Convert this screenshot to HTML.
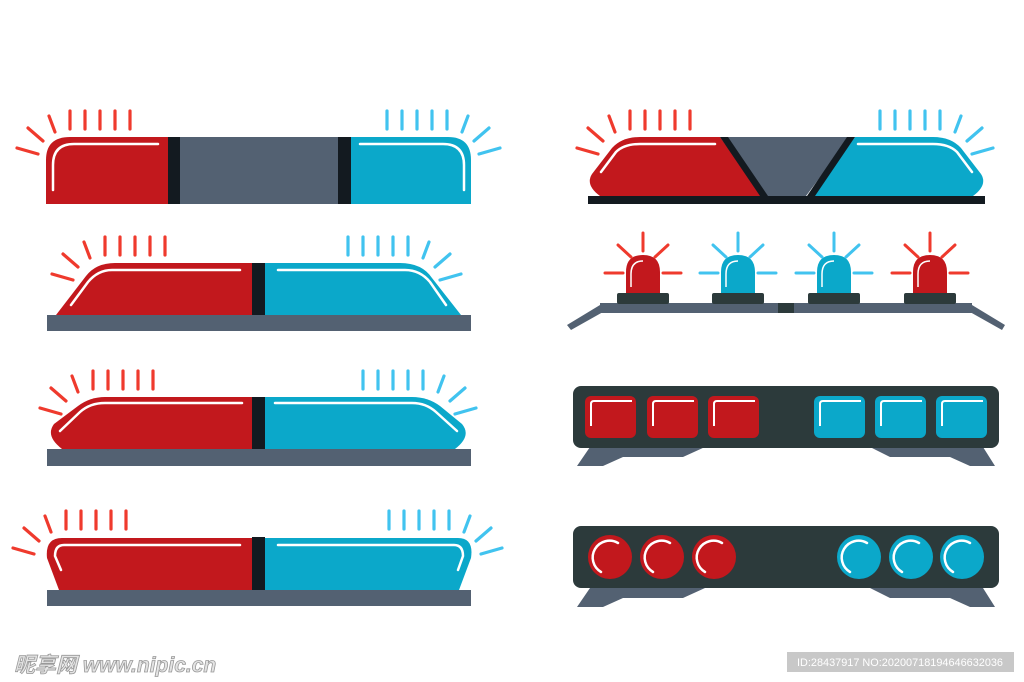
<!DOCTYPE html>
<html><head><meta charset="utf-8"><style>html,body{margin:0;padding:0;background:#fff}svg{display:block}</style></head>
<body>
<svg width="1024" height="682" viewBox="0 0 1024 682" xmlns="http://www.w3.org/2000/svg">
<defs>
<g id="rays" stroke-width="3.2" stroke-linecap="round" fill="none">
<line x1="24" y1="-26" x2="24" y2="-8"/><line x1="39" y1="-26" x2="39" y2="-8"/><line x1="54" y1="-26" x2="54" y2="-8"/><line x1="69" y1="-26" x2="69" y2="-8"/><line x1="84" y1="-26" x2="84" y2="-8"/>
<line x1="3" y1="-21" x2="9" y2="-5"/><line x1="-18" y1="-9" x2="-3" y2="4"/><line x1="-29" y1="11" x2="-8" y2="17"/>
</g>
<g id="beam" stroke-width="3" stroke-linecap="round">
<line x1="0" y1="-22" x2="0" y2="-40"/><line x1="-12" y1="-16" x2="-25" y2="-28"/><line x1="12" y1="-16" x2="25" y2="-28"/><line x1="-20" y1="0" x2="-38" y2="0"/><line x1="20" y1="0" x2="38" y2="0"/>
</g>
</defs>
<!-- Bar 1 -->
<path d="M46 204 V160 Q46 137 70 137 H168 V204 Z" fill="#c2181d"/>
<rect x="168" y="137" width="12" height="67" fill="#131a20"/>
<rect x="180" y="137" width="158" height="67" fill="#536172"/>
<rect x="338" y="137" width="13" height="67" fill="#131a20"/>
<path d="M351 137 H448 Q471 137 471 160 V204 H351 Z" fill="#0ba8ca"/>
<path d="M53 190 V165 Q53 144 74 144 H158" stroke="#fff" stroke-width="2.5" fill="none" stroke-linecap="round"/>
<path d="M464 190 V165 Q464 144 443 144 H360" stroke="#fff" stroke-width="2.5" fill="none" stroke-linecap="round"/>
<use href="#rays" transform="translate(46,137)" stroke="#ef3a2d"/>
<use href="#rays" transform="translate(471,137) scale(-1,1)" stroke="#41c3ef"/>
<!-- Bar 2 -->
<rect x="47" y="315" width="424" height="16" fill="#536172"/>
<path d="M56 315 L86 276 Q96 263 115 263 H252 V315 Z" fill="#c2181d"/>
<rect x="252" y="263" width="13" height="52" fill="#131a20"/>
<path d="M265 263 H400 Q422 263 432 278 L461 315 H265 Z" fill="#0ba8ca"/>
<path d="M71 305 L88 282 Q98 270 112 270 H240" stroke="#fff" stroke-width="2.5" fill="none" stroke-linecap="round"/>
<path d="M446 305 L430 282 Q420 270 405 270 H278" stroke="#fff" stroke-width="2.5" fill="none" stroke-linecap="round"/>
<use href="#rays" transform="translate(81,263)" stroke="#ef3a2d"/>
<use href="#rays" transform="translate(432,263) scale(-1,1)" stroke="#41c3ef"/>
<!-- Bar 3 -->
<rect x="47" y="449" width="424" height="17" fill="#536172"/>
<path d="M62 449 Q45 436 54 424 L78 406 Q90 397 105 397 H252 V449 Z" fill="#c2181d"/>
<rect x="252" y="397" width="13" height="52" fill="#131a20"/>
<path d="M265 397 H412 Q428 397 440 406 L462 424 Q472 436 455 449 H265 Z" fill="#0ba8ca"/>
<path d="M60 431 L80 412 Q90 403 105 403 H242" stroke="#fff" stroke-width="2.5" fill="none" stroke-linecap="round"/>
<path d="M457 431 L436 412 Q426 403 412 403 H275" stroke="#fff" stroke-width="2.5" fill="none" stroke-linecap="round"/>
<use href="#rays" transform="translate(69,397)" stroke="#ef3a2d"/>
<use href="#rays" transform="translate(447,397) scale(-1,1)" stroke="#41c3ef"/>
<!-- Bar 4 -->
<rect x="47" y="590" width="424" height="16" fill="#536172"/>
<path d="M59 590 L47 558 Q45 538 62 538 H252 V590 Z" fill="#c2181d"/>
<rect x="252" y="537" width="13" height="53" fill="#131a20"/>
<path d="M265 538 H458 Q474 538 471 558 L459 590 H265 Z" fill="#0ba8ca"/>
<path d="M61 570 L55 556 Q55 545 64 545 H240" stroke="#fff" stroke-width="2.5" fill="none" stroke-linecap="round"/>
<path d="M458 570 L463 556 Q463 545 454 545 H278" stroke="#fff" stroke-width="2.5" fill="none" stroke-linecap="round"/>
<use href="#rays" transform="translate(42,537)" stroke="#ef3a2d"/>
<use href="#rays" transform="translate(473,537) scale(-1,1)" stroke="#41c3ef"/>
<!-- Right 1 -->
<rect x="588" y="196" width="397" height="8" fill="#131a20"/>
<path d="M725 137 H850 L806 196 H763 Z" fill="#536172"/>
<path d="M600 196 Q585 185 592 174 L612 148 Q622 137 640 137 H720 L762 196 Z" fill="#c2181d"/>
<path d="M720 137 H728 L768 196 H760 Z" fill="#131a20"/>
<path d="M973 196 Q988 185 981 174 L961 148 Q951 137 933 137 H855 L813 196 Z" fill="#0ba8ca"/>
<path d="M855 137 H847 L807 196 H815 Z" fill="#131a20"/>
<path d="M601 172 L616 152 Q624 144 640 144 H715" stroke="#fff" stroke-width="2.5" fill="none" stroke-linecap="round"/>
<path d="M972 172 L957 152 Q949 144 933 144 H858" stroke="#fff" stroke-width="2.5" fill="none" stroke-linecap="round"/>
<use href="#rays" transform="translate(606,137)" stroke="#ef3a2d"/>
<use href="#rays" transform="translate(964,137) scale(-1,1)" stroke="#41c3ef"/>
<!-- Right 2 -->
<path d="M567 325 L600 305 H972 L1005 325 L1002 330 L970 312 H603 L571 330 Z" fill="#536172"/>
<rect x="600" y="303" width="372" height="10" fill="#536172"/>
<rect x="778" y="303" width="16" height="10" fill="#2c3a3b"/>
<g>
<rect x="617" y="293" width="52" height="11" rx="2" fill="#2c3a3b"/>
<path d="M626 293 V272 Q626 255 643 255 Q660 255 660 272 V293 Z" fill="#c2181d"/>
<path d="M631 287 V274 Q631 261 643 261" stroke="#fff" stroke-width="1.5" fill="none"/>
<use href="#beam" transform="translate(643,273)" stroke="#ef3a2d"/>
<rect x="712" y="293" width="52" height="11" rx="2" fill="#2c3a3b"/>
<path d="M721 293 V272 Q721 255 738 255 Q755 255 755 272 V293 Z" fill="#0ba8ca"/>
<path d="M726 287 V274 Q726 261 738 261" stroke="#fff" stroke-width="1.5" fill="none"/>
<use href="#beam" transform="translate(738,273)" stroke="#41c3ef"/>
<rect x="808" y="293" width="52" height="11" rx="2" fill="#2c3a3b"/>
<path d="M817 293 V272 Q817 255 834 255 Q851 255 851 272 V293 Z" fill="#0ba8ca"/>
<path d="M822 287 V274 Q822 261 834 261" stroke="#fff" stroke-width="1.5" fill="none"/>
<use href="#beam" transform="translate(834,273)" stroke="#41c3ef"/>
<rect x="904" y="293" width="52" height="11" rx="2" fill="#2c3a3b"/>
<path d="M913 293 V272 Q913 255 930 255 Q947 255 947 272 V293 Z" fill="#c2181d"/>
<path d="M918 287 V274 Q918 261 930 261" stroke="#fff" stroke-width="1.5" fill="none"/>
<use href="#beam" transform="translate(930,273)" stroke="#ef3a2d"/>
</g>
<!-- Right 3 -->
<path d="M590 447 L577 466 H603 L623 457 H683 L705 447 Z M870 447 L890 457 H950 L970 466 H995 L983 447 Z" fill="#536172"/>
<rect x="573" y="386" width="426" height="62" rx="8" fill="#2c3a3b"/>
<g fill="#c2181d"><rect x="585" y="396" width="51" height="42" rx="6"/><rect x="647" y="396" width="51" height="42" rx="6"/><rect x="708" y="396" width="51" height="42" rx="6"/></g>
<g fill="#0ba8ca"><rect x="814" y="396" width="51" height="42" rx="6"/><rect x="875" y="396" width="51" height="42" rx="6"/><rect x="936" y="396" width="51" height="42" rx="6"/></g>
<g stroke="#fff" stroke-width="2" fill="none">
<path d="M591 426 V404 Q591 401 594 401 H632"/><path d="M653 426 V404 Q653 401 656 401 H694"/><path d="M714 426 V404 Q714 401 717 401 H755"/>
<path d="M820 426 V404 Q820 401 823 401 H861"/><path d="M881 426 V404 Q881 401 884 401 H922"/><path d="M942 426 V404 Q942 401 945 401 H983"/>
</g>
<!-- Right 4 -->
<path d="M590 588 L577 607 H603 L623 598 H683 L705 588 Z M870 588 L890 598 H950 L970 607 H995 L983 588 Z" fill="#536172"/>
<rect x="573" y="526" width="426" height="62" rx="8" fill="#2c3a3b"/>
<g fill="#c2181d"><circle cx="610" cy="557" r="22"/><circle cx="662" cy="557" r="22"/><circle cx="714" cy="557" r="22"/></g>
<g fill="#0ba8ca"><circle cx="859" cy="557" r="22"/><circle cx="911" cy="557" r="22"/><circle cx="962" cy="557" r="22"/></g>
<g stroke="#fff" stroke-width="2.5" fill="none" stroke-linecap="round">
<path d="M601 572 A15 15 0 0 1 618 543"/><path d="M653 572 A15 15 0 0 1 670 543"/><path d="M705 572 A15 15 0 0 1 722 543"/>
<path d="M850 572 A15 15 0 0 1 867 543"/><path d="M902 572 A15 15 0 0 1 919 543"/><path d="M953 572 A15 15 0 0 1 970 543"/>
</g>
<!-- watermarks -->
<text x="14" y="672" font-family="'Liberation Sans','Noto Sans CJK SC',sans-serif" font-size="21" font-style="italic" font-weight="bold" fill="#e4e4e4" stroke="#999" stroke-width="0.8">昵享网 www.nipic.cn</text>
<rect x="787" y="652" width="227" height="20" fill="#c8c8c8"/>
<text x="797" y="666" font-family="'Liberation Sans',sans-serif" font-size="11" fill="#fff" textLength="206" lengthAdjust="spacingAndGlyphs">ID:28437917 NO:20200718194646632036</text>
</svg>
</body></html>
